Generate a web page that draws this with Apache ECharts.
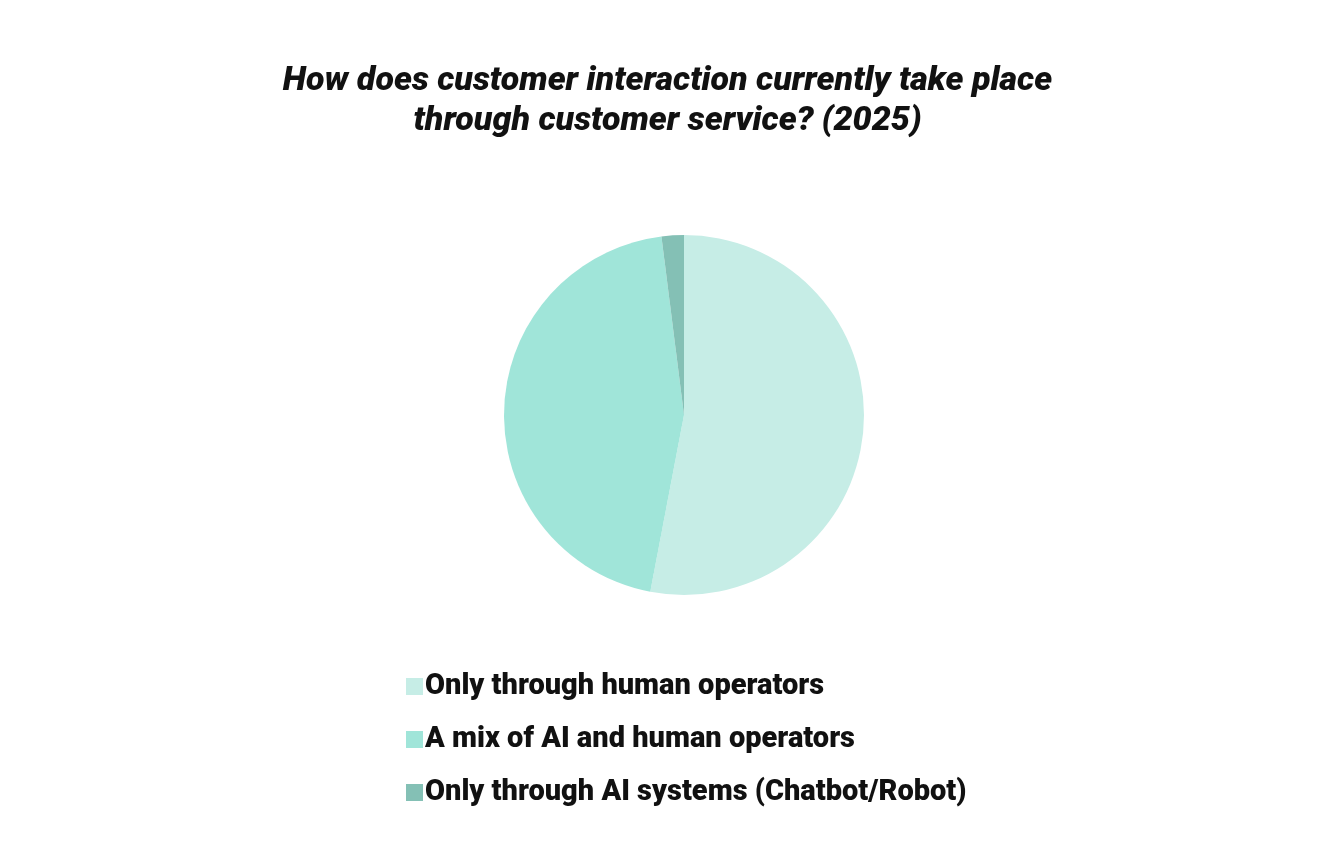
<!DOCTYPE html>
<html>
<head>
<meta charset="utf-8">
<script src="https://cdn.jsdelivr.net/npm/echarts@6/dist/echarts.min.js"></script>
<style>
  html, body { margin: 0; padding: 0; background: #fff; }
  #main { width: 1335px; height: 862px; }
</style>
</head>
<body>
<div id="main"></div>
<script>
// data
var categories = ['Only through human operators', 'A mix of AI and human operators', 'Only through AI systems (Chatbot/Robot)'];
var shares = [53, 45, 2];
var colors = ['#c6ede6', '#a0e5d9', '#84c0b5'];

var chart = echarts.init(document.getElementById('main'));

var pieData = categories.map(function (name, i) {
  return { name: name, value: shares[i], itemStyle: { color: colors[i] } };
});

chart.setOption({
  backgroundColor: '#fff',
  animation: false,
  title: {
    text: 'How does customer interaction currently take place\nthrough customer service? (2025)',
    left: 'center',
    top: 56,
    textStyle: {
      fontFamily: 'Roboto',
      fontStyle: 'italic',
      fontWeight: 900,
      fontSize: 34,
      lineHeight: 40,
      color: '#111'
    }
  },
  legend: {
    orient: 'vertical',
    left: 401,
    top: 667,
    itemWidth: 17,
    itemHeight: 17,
    itemGap: 24,
    icon: 'rect',
    textStyle: {
      fontFamily: 'Roboto',
      fontWeight: 900,
      fontSize: 29,
      color: '#111',
      padding: [0, 0, 0, -3]
    },
    data: categories
  },
  series: [{
    type: 'pie',
    center: [684, 415],
    radius: 180,
    startAngle: 90,
    clockwise: true,
    label: { show: false },
    labelLine: { show: false },
    itemStyle: { borderWidth: 0 },
    data: pieData
  }]
});
</script>
</body>
</html>
